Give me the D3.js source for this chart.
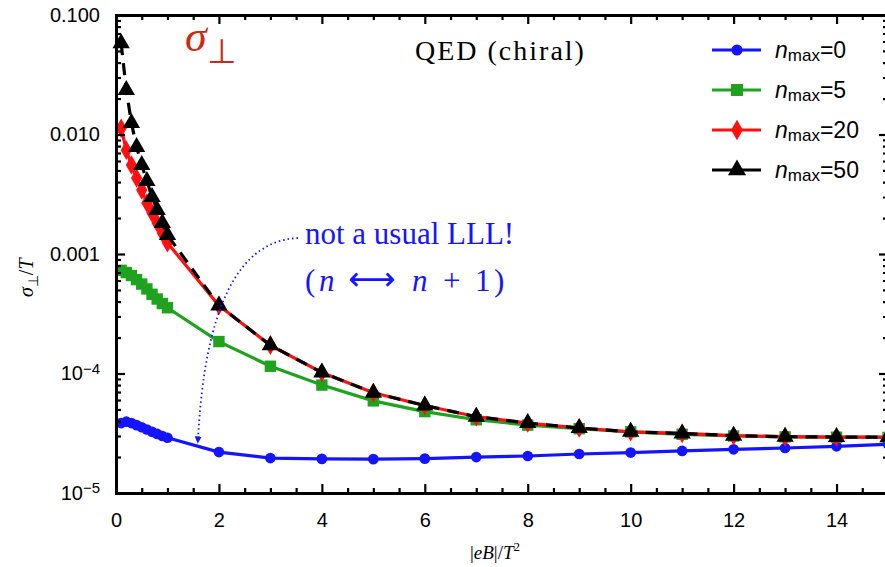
<!DOCTYPE html>
<html>
<head>
<meta charset="utf-8">
<script src="https://cdn.jsdelivr.net/npm/d3@7"></script>
<style>
  body { margin: 0; background: #fff; }
  svg { display: block; }
  .tick text { font-family: "Liberation Sans", Arial, sans-serif; font-size: 20px; fill: #000; }
</style>
</head>
<body>
<script>
// x values: fine steps up to 1, then integers
const xs = [0.1, 0.2, 0.3, 0.4, 0.5, 0.6, 0.7, 0.8, 0.9, 1, 2, 3, 4, 5, 6, 7, 8, 9, 10, 11, 12, 13, 14, 15];

const n0 = [3.85e-5, 3.95e-5, 3.85e-5, 3.7e-5, 3.55e-5, 3.4e-5, 3.25e-5, 3.12e-5, 3.0e-5, 2.9e-5,
  2.2e-5, 1.96e-5, 1.93e-5, 1.92e-5, 1.94e-5, 2.0e-5, 2.04e-5, 2.12e-5, 2.18e-5, 2.25e-5, 2.32e-5, 2.38e-5, 2.46e-5, 2.56e-5];
const n5 = [7.3e-4, 7.0e-4, 6.6e-4, 6.1e-4, 5.6e-4, 5.1e-4, 4.6e-4, 4.2e-4, 3.85e-4, 3.55e-4,
  1.85e-4, 1.15e-4, 8.0e-5, 5.9e-5, 4.8e-5, 4.1e-5, 3.7e-5, 3.45e-5, 3.25e-5, 3.1e-5, 3.0e-5, 2.95e-5, 2.93e-5, 2.92e-5];
const n20 = [1.13e-2, 7.4e-3, 5.56e-3, 4.33e-3, 3.43e-3, 2.67e-3, 2.2e-3, 1.82e-3, 1.5e-3, 1.24e-3,
  3.7e-4, 1.72e-4, 1.02e-4, 6.9e-5, 5.4e-5, 4.35e-5, 3.85e-5, 3.5e-5, 3.25e-5, 3.15e-5, 3.02e-5, 2.96e-5, 2.94e-5, 2.93e-5];
const n50 = [5.8e-2, 2.36e-2, 1.25e-2, 7.86e-3, 5.56e-3, 4.08e-3, 3.0e-3, 2.33e-3, 1.82e-3, 1.44e-3,
  3.7e-4, 1.72e-4, 1.02e-4, 6.9e-5, 5.4e-5, 4.35e-5, 3.85e-5, 3.5e-5, 3.25e-5, 3.15e-5, 3.02e-5, 2.96e-5, 2.94e-5, 2.93e-5];

const seriesNames = ["0", "5", "20", "50"];
const xTicks = [0, 2, 4, 6, 8, 10, 12, 14];
const yTicks = [1e-5, 1e-4, 1e-3, 1e-2, 1e-1];
const yTickLabels = ["10^-5", "10^-4", "0.001", "0.010", "0.100"];

const width = 885, height = 567;
const margin = {top: 15, right: -3, bottom: 74, left: 116};

const svg = d3.select("body").append("svg")
  .attr("width", width)
  .attr("height", height);

const x = d3.scaleLinear().domain([0, 15]).range([margin.left, width - margin.right]);
const y = d3.scaleLog().domain([1e-5, 0.1]).range([height - margin.bottom, margin.top]);

const series = [
  {name: seriesNames[0], values: n0, color: "#1414ff", marker: "circle", dash: null},
  {name: seriesNames[1], values: n5, color: "#1fa31f", marker: "square", dash: null},
  {name: seriesNames[2], values: n20, color: "#ff1010", marker: "diamond", dash: null},
  {name: seriesNames[3], values: n50, color: "#000000", marker: "triangle", dash: "12,8"}
];

const symbolType = {
  circle: d3.symbolCircle, square: d3.symbolSquare,
  diamond: d3.symbolDiamond, triangle: d3.symbolTriangle
};
const symbolSize = {circle: 90, square: 130, diamond: 110, triangle: 130};

const line = d3.line().x(d => x(d[0])).y(d => y(d[1]));

const plot = svg.append("g");
series.forEach(s => {
  const pts = xs.map((v, i) => [v, s.values[i]]);
  plot.append("path")
    .datum(pts)
    .attr("fill", "none")
    .attr("stroke", s.color)
    .attr("stroke-width", 3.2)
    .attr("stroke-dasharray", s.dash)
    .attr("d", line);
  plot.selectAll(null)
    .data(pts)
    .join("path")
      .attr("transform", d => `translate(${x(d[0])},${y(d[1])})`)
      .attr("d", d3.symbol(symbolType[s.marker], symbolSize[s.marker]))
      .attr("fill", s.color);
});

// axes with inward ticks
const minorX = d3.range(0, 15.01, 0.5).filter(v => v % 2 !== 0);
const minorY = [];
[1e-5, 1e-4, 1e-3, 1e-2].forEach(d => { for (let k = 2; k <= 9; k++) minorY.push(d * k); });

const fmtY = (d, i) => yTickLabels[yTicks.indexOf(d)];

const gx = svg.append("g").attr("transform", `translate(0,${y.range()[0]})`)
  .call(d3.axisBottom(x).tickValues(xTicks).tickSize(-9).tickPadding(20).tickFormat(d3.format("d")));
svg.append("g").attr("transform", `translate(0,${y.range()[0]})`)
  .call(d3.axisBottom(x).tickValues(minorX).tickSize(-5).tickFormat(""));
svg.append("g").attr("transform", `translate(0,${y.range()[1]})`)
  .call(d3.axisTop(x).tickValues(xTicks).tickSize(-9).tickFormat(""));
svg.append("g").attr("transform", `translate(0,${y.range()[1]})`)
  .call(d3.axisTop(x).tickValues(minorX).tickSize(-5).tickFormat(""));

const gy = svg.append("g").attr("transform", `translate(${x.range()[0]},0)`)
  .call(d3.axisLeft(y).tickValues(yTicks).tickSize(-9).tickPadding(16).tickFormat(fmtY));
svg.append("g").attr("transform", `translate(${x.range()[0]},0)`)
  .call(d3.axisLeft(y).tickValues(minorY).tickSize(-5).tickFormat(""));
svg.append("g").attr("transform", `translate(${x.range()[1]},0)`)
  .call(d3.axisRight(y).tickValues(yTicks).tickSize(-9).tickFormat(""));
svg.append("g").attr("transform", `translate(${x.range()[1]},0)`)
  .call(d3.axisRight(y).tickValues(minorY).tickSize(-5).tickFormat(""));

svg.selectAll(".domain").attr("stroke-width", 3).attr("stroke", "#000");
svg.selectAll(".tick line").attr("stroke-width", 2.2).attr("stroke", "#000");

// superscript labels for powers of ten
gy.selectAll(".tick text").each(function(d) {
  const t = d3.select(this);
  const lab = t.text();
  if (lab.startsWith("10^")) {
    t.text("10");
    t.append("tspan").attr("dy", "-0.45em").attr("font-size", "15px").text("\u2212" + lab.slice(4));
  }
});

// annotation arrow (dotted)
svg.append("defs").append("marker")
  .attr("id", "arr").attr("viewBox", "0 0 10 10").attr("refX", 5).attr("refY", 5)
  .attr("markerWidth", 4).attr("markerHeight", 4).attr("orient", "auto")
  .append("path").attr("d", "M0,0L10,5L0,10z").attr("fill", "#1414ff");
svg.append("path")
  .attr("d", "M298,238 Q208,242 198,440")
  .attr("fill", "none")
  .attr("stroke", "#1414ff")
  .attr("stroke-width", 1.8)
  .attr("stroke-dasharray", "1.5,3")
  .attr("marker-end", "url(#arr)");

const serif = "'Liberation Serif', 'Times New Roman', serif";
const ann = svg.append("g").attr("fill", "#1414ff")
  .attr("font-family", serif).attr("font-size", "31px");
ann.append("text").attr("x", 305).attr("y", 244).text("not a usual LLL!");
// second line laid out piece by piece like typeset math
const pieces = [
  {t: "(", x: 305, it: false},
  {t: "n", x: 319, it: true},
  {t: "\u27f7", x: 348, it: false, arrow: true},
  {t: "n", x: 412, it: true},
  {t: "+", x: 443, it: false},
  {t: "1", x: 475, it: false},
  {t: ")", x: 494, it: false}
];
ann.selectAll(null).data(pieces).join("text")
  .attr("x", d => d.x).attr("y", 291)
  .attr("font-style", d => d.it ? "italic" : null)
  .attr("font-family", d => d.arrow ? "'DejaVu Sans', sans-serif" : null)
  .attr("font-size", d => d.arrow ? "33px" : null)
  .attr("dy", d => d.arrow ? "-1" : null)
  .text(d => d.t);

// title
const ttl = svg.append("text").attr("x", 185).attr("y", 51).attr("fill", "#cc2a12")
  .attr("font-family", serif).attr("font-size", "44px");
ttl.append("tspan").attr("font-style", "italic").text("\u03c3");
ttl.append("tspan").attr("dy", "12").attr("font-size", "34px").text("\u22a5");

svg.append("text").attr("x", 415).attr("y", 60)
  .attr("font-family", serif).attr("font-size", "28px").attr("letter-spacing", "2px")
  .text("QED (chiral)");

// legend
const leg = svg.append("g").attr("transform", "translate(712,50)");
series.forEach((s, i) => {
  const g = leg.append("g").attr("transform", `translate(0,${i * 40})`);
  g.append("line").attr("x1", 0).attr("x2", 49).attr("stroke", s.color).attr("stroke-width", 3.2);
  g.append("path").attr("transform", "translate(25,0)")
    .attr("d", d3.symbol(symbolType[s.marker], symbolSize[s.marker] * 1.1)).attr("fill", s.color);
  const t = g.append("text").attr("x", 63).attr("y", 8)
    .attr("font-family", "'Liberation Sans', Arial, sans-serif").attr("font-size", "23px");
  t.append("tspan").attr("font-style", "italic").text("n");
  t.append("tspan").attr("font-size", "17px").attr("dy", "3").text("max");
  t.append("tspan").attr("dy", "-3").text("=" + s.name);
});

// axis titles
const xl = svg.append("text").attr("x", 470).attr("y", 559)
  .attr("font-family", serif).attr("font-size", "19px");
xl.append("tspan").text("|");
xl.append("tspan").attr("font-style", "italic").text("eB");
xl.append("tspan").text("|/");
xl.append("tspan").attr("font-style", "italic").text("T");
xl.append("tspan").attr("dy", "-8").attr("font-size", "13px").text("2");

const yl = svg.append("text").attr("transform", "translate(33,297) rotate(-90)")
  .attr("font-family", serif).attr("font-size", "20px");
yl.append("tspan").attr("font-style", "italic").text("\u03c3");
yl.append("tspan").attr("dy", "5").attr("font-size", "14px").text("\u22a5");
yl.append("tspan").attr("dy", "-5").text("/");
yl.append("tspan").attr("font-style", "italic").text("T");
</script>
</body>
</html>
